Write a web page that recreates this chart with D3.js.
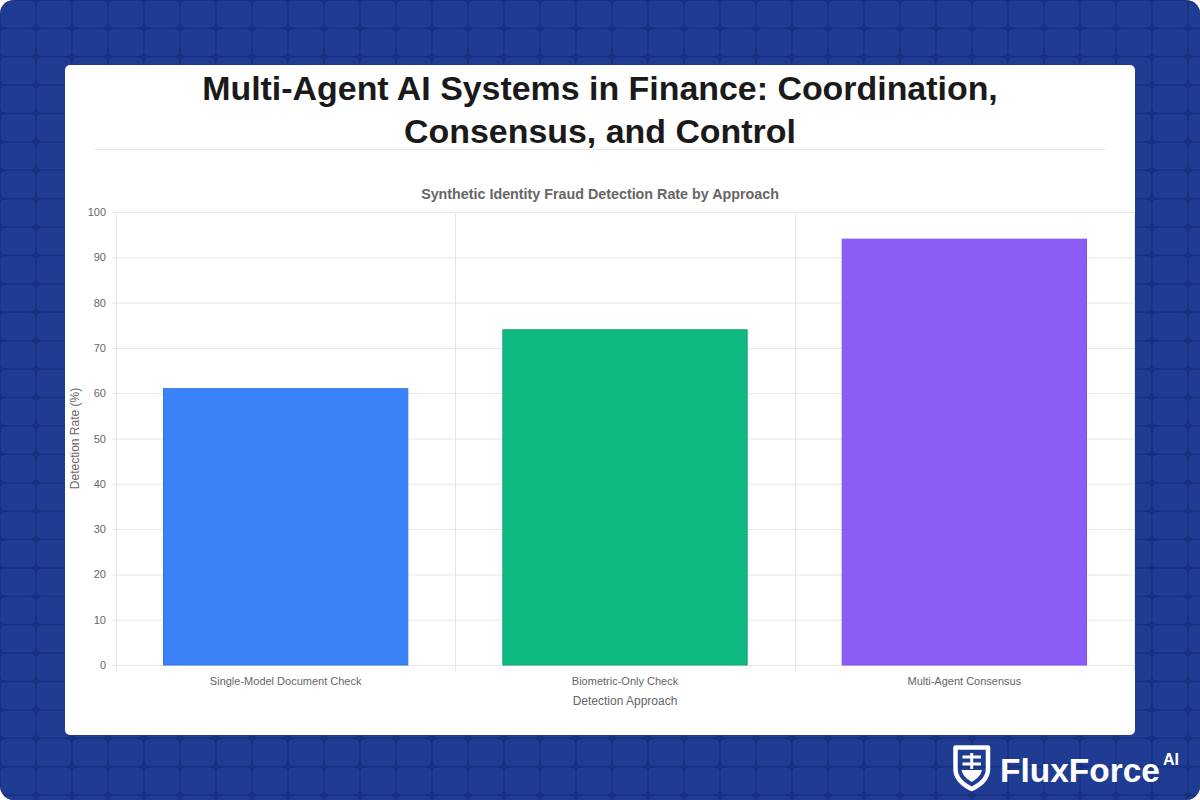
<!DOCTYPE html>
<html>
<head>
<meta charset="utf-8">
<script src="https://cdn.jsdelivr.net/npm/d3@7"></script>
<style>
  html, body { margin: 0; padding: 0; background: #ffffff; }
  svg { display: block; }
</style>
</head>
<body>
<svg id="chart" width="1200" height="800"></svg>
<script>
// ---- data ----
const categories = ["Single-Model Document Check", "Biometric-Only Check", "Multi-Agent Consensus"];
const detectionRates = [61, 74, 94];
const barColors = ["#3b82f6", "#10b981", "#8b5cf6"];
const barBorders = ["#3477e8", "#0fa674", "#8152f0"];
const yTicks = [0, 10, 20, 30, 40, 50, 60, 70, 80, 90, 100];
const titleLines = ["Multi-Agent AI Systems in Finance: Coordination,", "Consensus, and Control"];
const chartTitle = "Synthetic Identity Fraud Detection Rate by Approach";
const yAxisTitle = "Detection Rate (%)";
const xAxisTitle = "Detection Approach";

const W = 1200, H = 800;
const svg = d3.select("#chart");
const defs = svg.append("defs");
const sans = "'Liberation Sans', Arial, Helvetica, sans-serif";

// clip for rounded outer image
defs.append("clipPath").attr("id", "outer")
  .append("rect").attr("x", 0).attr("y", 0).attr("width", W).attr("height", H).attr("rx", 14);

const bg = svg.append("g").attr("clip-path", "url(#outer)");
bg.append("rect").attr("width", W).attr("height", H).attr("fill", "#18317f");

// tile grid
const pitchX = 36, pitchY = 28.4;
const cols = d3.range(Math.ceil(W / pitchX) + 1);
const rows = d3.range(Math.ceil(H / pitchY) + 1);
const tiles = [];
rows.forEach(r => cols.forEach(c => tiles.push([c, r])));
bg.append("g").selectAll("rect").data(tiles).join("rect")
  .attr("x", d => d[0] * pitchX + 1.2)
  .attr("y", d => d[1] * pitchY + 1.2)
  .attr("width", pitchX - 2.6)
  .attr("height", pitchY - 2.6)
  .attr("rx", 4)
  .attr("fill", "#1f3b92")
  .attr("stroke", "#2442a0")
  .attr("stroke-opacity", 0.7)
  .attr("stroke-width", 1);

// card
const card = { x: 65, y: 65, w: 1070, h: 670 };
svg.append("rect").attr("x", card.x).attr("y", card.y).attr("width", card.w).attr("height", card.h)
  .attr("rx", 5).attr("fill", "#ffffff");

// main title (fit first line to the reference width)
const titleSel = svg.append("g").selectAll("text").data(titleLines).join("text")
  .attr("x", 600).attr("y", (d, i) => 100 + i * 42.5)
  .attr("text-anchor", "middle")
  .attr("font-family", sans)
  .attr("font-weight", 700)
  .attr("font-size", 30)
  .attr("fill", "#1a1a1a")
  .text(d => d);
const l1 = titleSel.nodes()[0].getComputedTextLength();
const fs = 30 * 796 / l1;
titleSel.attr("font-size", fs);

svg.append("line").attr("x1", 95).attr("x2", 1105).attr("y1", 149.5).attr("y2", 149.5)
  .attr("stroke", "#e5e7eb").attr("stroke-width", 1);

// chart title
svg.append("text").attr("x", 600).attr("y", 199)
  .attr("text-anchor", "middle")
  .attr("font-family", sans)
  .attr("font-weight", 700).attr("font-size", 14.3).attr("fill", "#666666")
  .text(chartTitle);

// plot
const plot = { left: 116, right: 1134, top: 212, bottom: 665 };
const x = d3.scaleBand().domain(categories).range([plot.left, plot.right]).paddingInner(0).paddingOuter(0);
const y = d3.scaleLinear().domain([0, 100]).range([plot.bottom, plot.top]);

const gridColor = "#e6e6e6";
const g = svg.append("g");

// horizontal grid + tick marks
const yAxis = d3.axisLeft(y).tickValues(yTicks).tickSize(plot.right - plot.left + 4).tickPadding(6).tickFormat(d3.format("d"));
const yG = g.append("g").attr("transform", `translate(${plot.right},0)`).call(yAxis);
yG.select(".domain").remove();
yG.selectAll(".tick line").attr("stroke", gridColor).attr("stroke-width", 1);
yG.selectAll(".tick text")
  .attr("font-family", sans)
  .attr("font-size", 11).attr("fill", "#666666");

// vertical grid lines at category boundaries
const bounds = categories.map(c => x(c)).concat([plot.right]);
g.append("g").selectAll("line").data(bounds).join("line")
  .attr("x1", d => Math.round(d) + 0.5).attr("x2", d => Math.round(d) + 0.5)
  .attr("y1", plot.top).attr("y2", plot.bottom + 6)
  .attr("stroke", gridColor).attr("stroke-width", 1);

// bars (barPercentage 0.9 * categoryPercentage 0.8)
const barFrac = 0.72;
g.append("g").selectAll("rect").data(categories).join("rect")
  .attr("x", d => x(d) + x.bandwidth() * (1 - barFrac) / 2)
  .attr("width", x.bandwidth() * barFrac)
  .attr("y", (d, i) => y(detectionRates[i]))
  .attr("height", (d, i) => y(0) - y(detectionRates[i]))
  .attr("fill", (d, i) => barColors[i])
  .attr("stroke", (d, i) => barBorders[i])
  .attr("stroke-width", 1);

// x axis labels
const xAxis = d3.axisBottom(x).tickSize(0).tickPadding(12);
const xG = g.append("g").attr("transform", `translate(0,${plot.bottom})`).call(xAxis);
xG.select(".domain").remove();
xG.selectAll(".tick text")
  .attr("font-family", sans)
  .attr("font-size", 11).attr("fill", "#666666");

// axis titles
svg.append("text").attr("x", (plot.left + plot.right) / 2).attr("y", 705)
  .attr("text-anchor", "middle")
  .attr("font-family", sans)
  .attr("font-size", 12).attr("fill", "#666666")
  .text(xAxisTitle);

svg.append("text")
  .attr("transform", `translate(79,${(plot.top + plot.bottom) / 2}) rotate(-90)`)
  .attr("text-anchor", "middle")
  .attr("font-family", sans)
  .attr("font-size", 12).attr("fill", "#666666")
  .text(yAxisTitle);

// logo
const logo = svg.append("g").attr("transform", "translate(953,745)");
logo.append("path")
  .attr("d", "M2.5,2.5 H35 V24 C35,33 27,40 18.7,44 C10.5,40 2.5,33 2.5,24 Z")
  .attr("fill", "none").attr("stroke", "#ffffff").attr("stroke-width", 4.5).attr("stroke-linejoin", "round");
logo.append("path")
  .attr("d", "M9.5,12 H28 M9.5,19 H28 M18.7,8 V24")
  .attr("stroke", "#ffffff").attr("stroke-width", 3).attr("fill", "none");
logo.append("path")
  .attr("d", "M8.5,25 H29 C28,30 24,34 18.7,37 C13.5,34 9.5,30 8.5,25 Z")
  .attr("fill", "#ffffff");
const brand = svg.append("text").attr("x", 1000).attr("y", 782)
  .attr("font-family", sans)
  .attr("font-weight", 700).attr("font-size", 34).attr("fill", "#ffffff")
  .text("FluxForce");
const bl = brand.node().getComputedTextLength();
brand.attr("font-size", 34 * 160 / bl);
svg.append("text").attr("x", 1163).attr("y", 765)
  .attr("font-family", sans)
  .attr("font-weight", 700).attr("font-size", 16).attr("fill", "#ffffff")
  .text("AI");
</script>
</body>
</html>
